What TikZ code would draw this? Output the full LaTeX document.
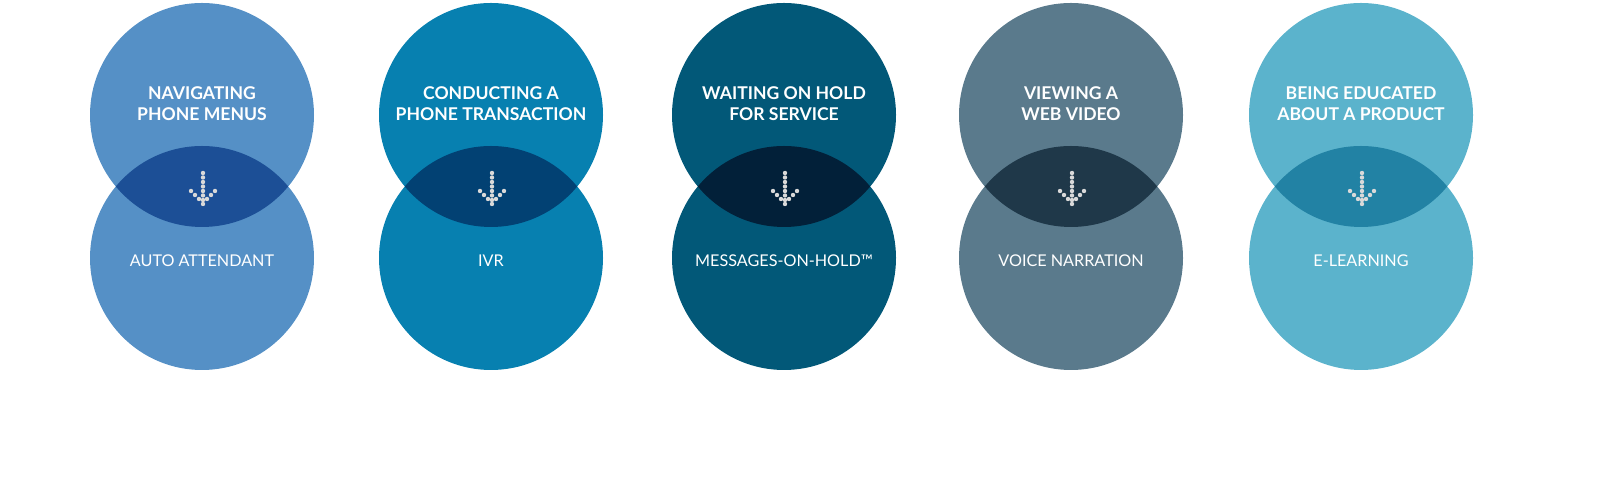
\documentclass[tikz,border=0pt]{standalone}
\usepackage{fontspec}
\setmainfont{Lato}
\begin{document}
\begin{tikzpicture}[x=0.01cm,y=-0.01cm,
  ttl/.style={text=white,font=\bfseries\fontsize{5}{6}\selectfont,align=center},
  lbl/.style={text=white,font=\fontsize{4.6}{5.5}\selectfont,align=center},
  dot/.style={fill=white!70!gray,draw=none}]
\useasboundingbox (0,0) rectangle (1600,492);
\foreach \cx/\ca/\cb/\t/\l [count=\i] in {
  202/5590C6/1C4F96/{NAVIGATING\\PHONE MENUS}/{AUTO ATTENDANT},
  491/0780B0/024173/{CONDUCTING A\\PHONE TRANSACTION}/{IVR},
  784/025878/022039/{WAITING ON HOLD\\FOR SERVICE}/{MESSAGES-ON-HOLD™},
  1071/5A7A8C/1F3849/{VIEWING A\\WEB VIDEO}/{VOICE NARRATION},
  1361/5BB3CC/2282A4/{BEING EDUCATED\\ABOUT A PRODUCT}/{E-LEARNING}}{
  \definecolor{ca\i}{HTML}{\ca}\definecolor{cb\i}{HTML}{\cb}
  \fill[ca\i] (\cx,115) circle (112);
  \fill[ca\i] (\cx,258) circle (112);
  \begin{scope}
    \clip (\cx,115) circle (112);
    \fill[cb\i] (\cx,258) circle (112);
  \end{scope}
  \node[ttl] (t\i) at (\cx,104) {\t};
  \node[lbl] (l\i) at (\cx,261) {\l};
  \foreach \y in {173,177.5,182,186.5,191,195.5,200}
    \fill[dot] (\cx+1,\y) circle (2.2);
  \foreach \d in {0,4,8}{
    \fill[dot] (\cx-11+\d,191+\d) circle (2.2);
    \fill[dot] (\cx+13-\d,191+\d) circle (2.2);}
  \fill[dot] (\cx+1,204) circle (2.2);
}
\end{tikzpicture}
\end{document}
